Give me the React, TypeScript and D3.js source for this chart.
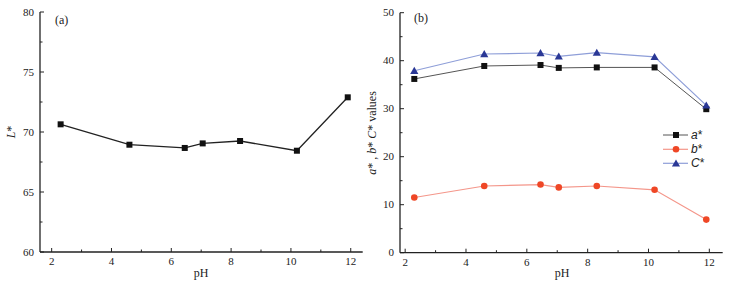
import React from "react";
import * as d3 from "d3";

const pH = [2.3, 4.6, 6.45, 7.05, 8.3, 10.2, 11.9];
const L = [70.64, 68.94, 68.67, 69.05, 69.25, 68.44, 72.89];
const aStar = [36.2, 38.9, 39.1, 38.5, 38.6, 38.6, 29.9];
const bStar = [11.5, 13.9, 14.2, 13.6, 13.9, 13.1, 6.9];
const cStar = [37.9, 41.4, 41.6, 40.9, 41.7, 40.8, 30.7];
const xTicks = [2, 4, 6, 8, 10, 12];
const xMinor = [3, 5, 7, 9, 11];
const yTicksA = [60, 65, 70, 75, 80];
const yMinorA = [62.5, 67.5, 72.5, 77.5];
const yTicksB = [0, 10, 20, 30, 40, 50];
const yMinorB = [5, 15, 25, 35, 45];

const serif = "'Liberation Serif', 'Times New Roman', serif";
const sans = "'Liberation Sans', Arial, sans-serif";

function Axes({ x, y, xt, xm, yt, ym }: any) {
  const [x0, x1] = x.range();
  const [y0, y1] = y.range();
  return (
    <g>
      <line x1={x0} x2={x0} y1={y0} y2={y1} stroke="#222" strokeWidth={1.3} />
      <line x1={x0} x2={x1} y1={y0} y2={y0} stroke="#222" strokeWidth={1.3} />
      {xt.map((t: number) => (
        <g key={"xt" + t}>
          <line x1={x(t)} x2={x(t)} y1={y0} y2={y0 - 4} stroke="#222" />
          <text x={x(t)} y={y0 + 13} textAnchor="middle" fontSize={11} fontFamily={serif} fill="#222">{t}</text>
        </g>
      ))}
      {xm.map((t: number) => (
        <line key={"xm" + t} x1={x(t)} x2={x(t)} y1={y0} y2={y0 - 2.5} stroke="#222" />
      ))}
      {yt.map((t: number) => (
        <g key={"yt" + t}>
          <line x1={x0} x2={x0 + 4} y1={y(t)} y2={y(t)} stroke="#222" />
          <text x={x0 - 6} y={y(t) + 3.5} textAnchor="end" fontSize={11} fontFamily={serif} fill="#222">{t}</text>
        </g>
      ))}
      {ym.map((t: number) => (
        <line key={"ym" + t} x1={x0} x2={x0 + 2.5} y1={y(t)} y2={y(t)} stroke="#222" />
      ))}
    </g>
  );
}

function Square({ cx, cy, s, fill }: any) {
  return <rect x={cx - s / 2} y={cy - s / 2} width={s} height={s} fill={fill} />;
}
function Tri({ cx, cy, s, fill }: any) {
  const sym = d3.symbol(d3.symbolTriangle, s * s * 0.45)();
  return <path d={sym as string} transform={`translate(${cx},${cy + 0.8})`} fill={fill} />;
}

export default function App() {
  const xa = d3.scaleLinear().domain([1.61, 12.4]).range([40, 362.7]);
  const ya = d3.scaleLinear().domain([60, 80]).range([252, 12]);
  const xb = d3.scaleLinear().domain([1.83, 12.44]).range([400, 722.7]);
  const yb = d3.scaleLinear().domain([0, 50]).range([252.7, 12.7]);

  const lineA = d3.line<number>().x((_, i) => xa(pH[i])).y((d) => ya(d));
  const lineB = d3.line<number>().x((_, i) => xb(pH[i])).y((d) => yb(d));

  const aLine = "#555";
  const bLine = "#f4968a";
  const bMark = "#ef4726";
  const cLine = "#8e9ed8";
  const cMark = "#2a3896";

  const legendX = 663;
  const legendRows = [135, 149.3, 163.3];

  return (
    <svg width={739} height={283} style={{ position: "absolute", left: 0, top: 0, background: "#fff" }}>
      {/* Panel a */}
      <Axes x={xa} y={ya} xt={xTicks} xm={xMinor} yt={yTicksA} ym={yMinorA} />
      <path d={lineA(L) as string} fill="none" stroke="#222" strokeWidth={1.3} />
      {L.map((v, i) => (
        <Square key={"l" + i} cx={xa(pH[i])} cy={ya(v)} s={6} fill="#111" />
      ))}
      <text x={55} y={24} fontSize={12} fontFamily={serif} fill="#222">(a)</text>
      <text x={201} y={277} textAnchor="middle" fontSize={12} fontFamily={serif} fill="#222">pH</text>
      <text transform="translate(15,132) rotate(-90)" textAnchor="middle" fontSize={12} fontFamily={serif} fill="#222">
        <tspan fontStyle="italic">L</tspan>*
      </text>

      {/* Panel b */}
      <Axes x={xb} y={yb} xt={xTicks} xm={xMinor} yt={yTicksB} ym={yMinorB} />
      <path d={lineB(cStar) as string} fill="none" stroke={cLine} strokeWidth={1.2} />
      <path d={lineB(aStar) as string} fill="none" stroke={aLine} strokeWidth={1} />
      <path d={lineB(bStar) as string} fill="none" stroke={bLine} strokeWidth={1.2} />
      {aStar.map((v, i) => (
        <Square key={"a" + i} cx={xb(pH[i])} cy={yb(v)} s={6} fill="#111" />
      ))}
      {bStar.map((v, i) => (
        <circle key={"b" + i} cx={xb(pH[i])} cy={yb(v)} r={3.3} fill={bMark} />
      ))}
      {cStar.map((v, i) => (
        <Tri key={"c" + i} cx={xb(pH[i])} cy={yb(v)} s={8} fill={cMark} />
      ))}
      <text x={414} y={22} fontSize={12} fontFamily={serif} fill="#222">(b)</text>
      <text x={562} y={277} textAnchor="middle" fontSize={12} fontFamily={serif} fill="#222">pH</text>
      <text transform="translate(376,133) rotate(-90)" textAnchor="middle" fontSize={12} fontFamily={serif} fill="#222">
        <tspan fontStyle="italic">a</tspan>* , <tspan fontStyle="italic">b</tspan>* <tspan fontStyle="italic">C</tspan>* values
      </text>

      {/* Legend */}
      <line x1={legendX} x2={legendX + 25} y1={legendRows[0]} y2={legendRows[0]} stroke={aLine} />
      <Square cx={legendX + 13} cy={legendRows[0]} s={6} fill="#111" />
      <line x1={legendX} x2={legendX + 25} y1={legendRows[1]} y2={legendRows[1]} stroke={bLine} strokeWidth={1.2} />
      <circle cx={legendX + 13} cy={legendRows[1]} r={3.3} fill={bMark} />
      <line x1={legendX} x2={legendX + 25} y1={legendRows[2]} y2={legendRows[2]} stroke={cLine} strokeWidth={1.2} />
      <Tri cx={legendX + 13} cy={legendRows[2]} s={8} fill={cMark} />
      <text x={legendX + 28} y={legendRows[0] + 4} fontSize={12} fontFamily={sans} fill="#222"><tspan fontStyle="italic">a</tspan>*</text>
      <text x={legendX + 28} y={legendRows[1] + 4} fontSize={12} fontFamily={sans} fill="#222"><tspan fontStyle="italic">b</tspan>*</text>
      <text x={legendX + 28} y={legendRows[2] + 4} fontSize={12} fontFamily={sans} fill="#222"><tspan fontStyle="italic">C</tspan>*</text>
    </svg>
  );
}
